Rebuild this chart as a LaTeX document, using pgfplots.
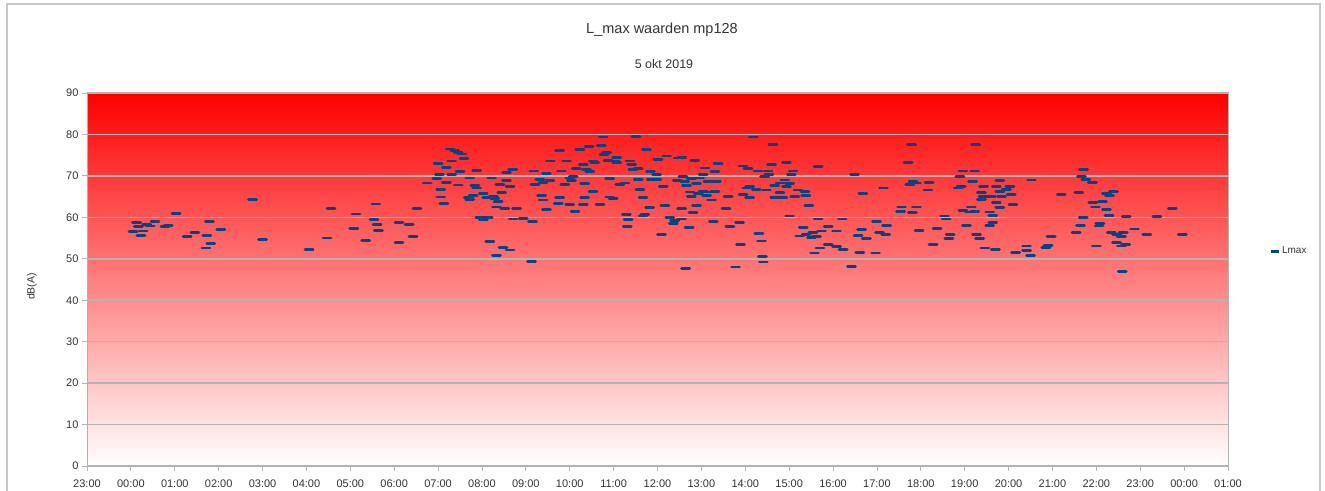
\documentclass[border=0pt]{standalone}
\usepackage{fontspec}
\setmainfont{Liberation Sans}
\usepackage{pgfplots}
\pgfplotsset{compat=1.18}

\definecolor{lmaxblue}{HTML}{004586}
\definecolor{gridgray}{HTML}{B3B3B3}
\definecolor{txtgray}{HTML}{333333}
\definecolor{framegray}{HTML}{C8C8C8}

\begin{document}
\begin{tikzpicture}[x=1pt,y=1pt]
% page = 1325 x 490 px, 1pt per px
\path[use as bounding box] (0,0) rectangle (1325,490);
\draw[framegray, line width=1.6pt] (7,-5) -- (7,486) -- (1320,486) -- (1320,-5);

\node[font=\fontsize{14.5}{17}\selectfont, text=txtgray] at (662,460.5) {L\_max waarden mp128};
\node[font=\fontsize{12.5}{15}\selectfont, text=txtgray] at (664,425.7) {5 okt 2019};
\node[font=\fontsize{10.5}{12}\selectfont, text=txtgray, rotate=90] at (32,203.5) {dB(A)};

\begin{axis}[
    at={(87pt,24pt)}, anchor=south west,
    width=1141pt, height=373pt, scale only axis,
    xmin=0, xmax=26, ymin=0, ymax=90,
    xtick={0,1,...,26},
    xticklabels={23:00,00:00,01:00,02:00,03:00,04:00,05:00,06:00,07:00,08:00,
        09:00,10:00,11:00,12:00,13:00,14:00,15:00,16:00,17:00,18:00,19:00,
        20:00,21:00,22:00,23:00,00:00,01:00},
    ytick={0,10,...,90},
    /pgf/number format/assume math mode=true,
    ymajorgrids,
    grid style={gridgray, line width=1.5pt},
    axis line style={gridgray, line width=1pt},
    tick style={gridgray, line width=0.8pt},
    tick align=outside, major tick length=5pt,
    xtick pos=bottom, ytick pos=left,
    ticklabel style={font=\fontsize{11}{13}\selectfont, text=txtgray},
    xticklabel style={yshift=-5pt},
    axis background/.style={top color=red, bottom color=white},
    legend style={at={(1.036,0.576)}, anchor=west, draw=none, fill=none,
        font=\fontsize{10}{12}\selectfont, text=txtgray, inner sep=0pt},
    legend cell align=left,
    legend image code/.code={\draw[lmaxblue, line width=2.8pt] (0pt,0pt) -- (8pt,0pt);},
]
% Lmax per event, x = hours since 23:00 (4 okt)
\addplot[only marks, mark=-, mark size=4pt, color=lmaxblue,
    mark options={line width=2.8pt, line cap=round}] coordinates {
(1.13,58.7) (1.36,58.3) (1.55,58.9) (1.17,57.7) (1.28,56.7) (1.05,56.6)
(1.23,55.6) (1.44,57.9) (1.78,57.7) (1.85,58.1) (2.03,61.0) (2.28,55.4)
(2.46,56.3) (2.73,55.6) (2.79,58.9) (3.05,57.1) (2.82,53.7) (2.71,52.6)
(3.77,64.3) (4.00,54.7) (5.06,52.3) (5.47,55.0) (5.56,62.2) (6.08,57.3)
(6.13,60.8) (6.35,54.4) (6.54,59.5) (6.58,63.2) (6.61,58.2) (6.64,56.9)
(7.11,58.7) (7.34,58.3) (7.43,55.3) (7.11,54.0) (7.52,62.1) (7.75,68.3)
(8.00,72.9) (8.03,70.3) (7.97,69.3) (8.06,66.7) (8.06,64.9) (8.13,63.3)
(8.19,68.4) (8.19,72.0) (8.27,76.5) (8.38,76.2) (8.46,75.6) (8.54,75.3)
(8.31,73.6) (8.59,74.2) (8.50,71.0) (8.46,67.8) (8.31,70.3) (8.72,69.5)
(8.88,71.3) (8.84,67.7) (8.88,67.1) (8.69,64.7) (8.72,64.3) (8.80,65.3)
(8.95,59.9) (9.03,59.4) (9.14,60.0) (9.03,65.7) (9.11,64.7) (9.26,65.1)
(9.22,69.5) (9.29,64.5) (9.37,63.9) (9.33,62.5) (9.41,67.9) (9.56,68.9)
(9.56,70.9) (9.70,71.5) (9.64,67.5) (9.45,65.9) (9.52,62.1) (9.79,62.1)
(9.71,59.6) (9.94,59.8) (10.15,59.0) (9.18,54.1) (9.48,52.7) (9.64,52.1)
(9.33,50.8) (10.13,49.4) (10.18,71.2) (10.21,67.9) (10.32,69.1) (10.39,68.4)
(10.47,70.6) (10.55,68.8) (10.36,65.3) (10.39,64.2) (10.47,61.8) (10.56,73.6)
(10.77,76.2) (10.81,71.2) (10.77,64.7) (10.74,63.3) (10.89,67.9) (10.93,73.6)
(11.00,69.5) (11.04,68.8) (11.08,69.8) (11.00,63.0) (11.12,61.4) (11.15,71.8)
(11.23,76.4) (11.31,72.8) (11.38,71.6) (11.34,68.2) (11.34,64.7) (11.31,63.0)
(11.44,77.0) (11.53,66.3) (11.53,73.6) (11.46,71.1) (11.57,73.2) (11.69,63.0)
(11.72,77.3) (11.76,79.4) (11.84,75.6) (11.78,75.1) (11.87,73.8) (11.91,64.9)
(11.99,64.5) (12.03,73.6) (12.07,74.5) (12.07,73.2) (11.91,69.3) (12.14,67.9)
(12.26,68.3) (12.29,60.7) (12.33,59.5) (12.31,57.7) (12.37,73.6) (12.41,72.8)
(12.44,71.6) (12.56,71.8) (12.51,79.5) (12.75,76.4) (12.56,69.2) (12.60,66.7)
(12.67,64.7) (12.71,60.7) (12.67,60.3) (12.82,62.3) (12.84,71.0) (12.86,69.2)
(12.98,69.2) (13.01,74.0) (12.98,70.4) (13.09,55.9) (13.17,62.9) (13.21,74.8)
(13.13,67.5) (13.28,60.0) (13.39,59.2) (13.36,58.5) (13.47,74.3) (13.45,68.8)
(15.18,79.4) (15.63,77.6) (13.55,74.4) (13.85,73.8) (14.38,73.0) (14.08,71.9)
(14.31,71.1) (13.58,69.9) (13.77,69.3) (14.04,70.3) (13.96,69.5) (13.62,68.6)
(14.15,68.6) (14.34,68.6) (13.89,68.1) (13.66,67.6) (13.74,66.1) (13.93,65.8)
(14.04,66.3) (14.19,66.1) (14.31,66.3) (14.12,65.3) (13.77,65.0) (14.23,64.2)
(14.61,65.0) (13.89,62.9) (13.55,62.1) (13.81,61.1) (14.56,62.1) (13.55,59.6)
(13.72,57.5) (14.27,58.9) (14.65,57.7) (14.87,58.8) (14.89,53.5) (15.31,56.1)
(15.37,54.3) (15.39,50.5) (15.41,49.2) (14.78,48.0) (13.64,47.6) (14.95,72.4)
(15.06,71.7) (15.29,71.2) (15.52,71.2) (15.60,72.8) (15.54,70.3) (15.44,69.9)
(15.94,73.2) (16.09,71.2) (16.05,70.3) (15.03,67.1) (15.10,67.5) (14.95,65.5)
(15.10,64.7) (15.25,66.7) (15.48,66.6) (15.67,67.7) (15.79,68.3) (15.90,69.0)
(15.94,67.5) (16.01,68.2) (15.79,65.9) (15.67,64.7) (15.86,64.7) (16.13,65.1)
(16.20,66.6) (16.36,66.3) (16.38,65.3) (16.66,72.2) (16.45,62.9) (16.01,60.3)
(16.66,59.6) (17.21,59.6) (17.49,70.3) (17.68,65.8) (18.15,67.1) (16.32,57.5)
(16.24,55.5) (16.39,55.9) (16.54,56.3) (16.51,55.1) (16.62,55.3) (16.74,56.7)
(16.89,57.7) (17.08,56.7) (16.70,52.6) (16.89,53.5) (16.58,51.4) (17.08,52.9)
(17.23,52.2) (17.61,51.6) (17.97,51.4) (17.42,48.2) (17.65,57.1) (17.57,55.6)
(17.76,54.8) (17.99,58.9) (18.22,58.0) (18.06,56.3) (18.20,55.9) (18.56,62.5)
(18.54,61.5) (18.90,62.5) (18.81,61.1) (18.75,67.9) (18.82,68.7) (18.90,68.3)
(18.71,73.2) (18.79,77.6) (19.19,68.5) (19.16,66.6) (18.96,56.9) (19.28,53.5)
(19.37,57.3) (19.54,60.3) (19.58,59.6) (19.67,55.9) (19.64,54.8) (19.85,67.1)
(19.92,67.4) (19.89,69.8) (19.96,71.2) (20.23,71.2) (20.25,77.6) (19.96,61.7)
(20.11,61.3) (20.15,62.5) (20.04,58.0) (20.27,55.9) (20.18,68.6) (20.80,68.9)
(20.43,67.5) (20.72,67.5) (21.03,67.4) (20.95,66.7) (20.80,66.3) (21.06,65.5)
(20.38,65.9) (20.42,65.1) (20.38,64.3) (20.61,65.0) (20.84,65.1) (20.72,63.5)
(21.10,63.1) (20.80,62.3) (20.23,61.5) (20.57,61.3) (20.64,60.4) (20.57,58.0)
(20.64,58.7) (20.34,54.9) (20.46,52.6) (20.70,52.2) (21.16,51.6) (21.41,53.1)
(21.41,52.0) (21.50,50.8) (21.97,55.3) (21.90,53.2) (21.85,52.8) (21.52,69.0)
(22.20,65.5) (22.60,65.9) (22.71,71.6) (22.66,69.9) (22.76,69.1) (22.91,68.5)
(22.92,63.5) (22.98,62.5) (23.14,63.9) (23.23,65.8) (23.30,65.3) (23.39,66.3)
(23.23,61.9) (23.29,60.4) (22.70,59.9) (22.64,58.0) (22.54,56.3) (23.00,53.1)
(23.08,58.5) (23.06,57.9) (23.68,60.2) (23.87,57.2) (23.34,56.3) (23.46,55.9)
(23.57,55.3) (23.61,56.3) (23.46,54.0) (23.57,53.1) (23.67,53.5) (23.59,47.0)
(24.15,55.9) (24.38,60.2) (24.73,62.1) (24.96,55.9)
};
\addlegendentry{Lmax}
\end{axis}
\end{tikzpicture}
\end{document}
